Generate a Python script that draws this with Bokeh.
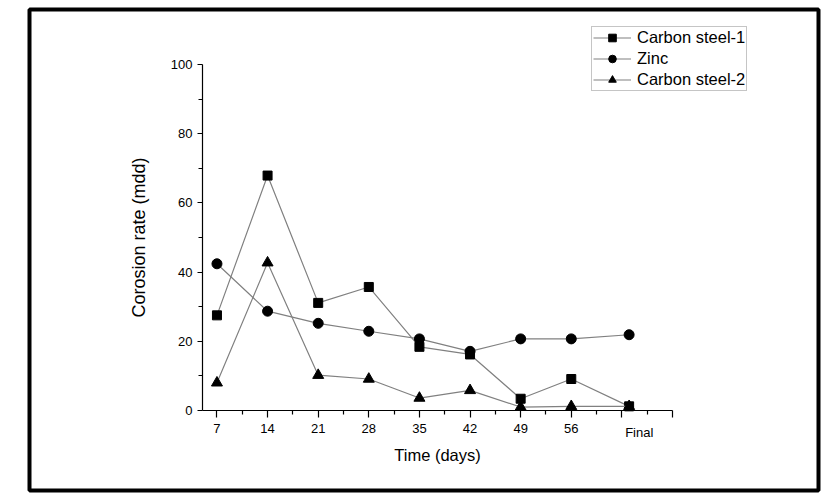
from bokeh.plotting import figure
from bokeh.models import Range1d, FixedTicker, Legend, LegendItem, Label
from bokeh.embed import file_html
from bokeh.resources import INLINE

# ---- data ----
days = [7, 14, 21, 28, 35, 42, 49, 56, 64]
steel1 = [27.5, 67.9, 31.1, 35.7, 18.4, 16.2, 3.4, 9.1, 1.2]
zinc = [42.4, 28.7, 25.2, 22.9, 20.7, 17.1, 20.7, 20.7, 21.9]
steel2 = [8.0, 42.7, 10.2, 9.1, 3.6, 5.8, 1.0, 1.2, 1.2]
series_names = ["Carbon steel-1", "Zinc", "Carbon steel-2"]

x_ticks = [7, 14, 21, 28, 35, 42, 49, 56, 63, 70]
x_tick_labels = ["7", "14", "21", "28", "35", "42", "49", "56", "", ""]
x_minor = [10.5, 17.5, 24.5, 31.5, 38.5, 45.5, 52.5, 59.5, 66.5]
x_axis_bounds = (5, 70)
final_label = "Final"
final_label_x = 65.4
y_ticks = [0, 20, 40, 60, 80, 100]
y_minor = [10, 30, 50, 70, 90]
y_axis_bounds = (0, 100)

FONT = "Liberation Sans"

# frame spans the whole boxed area; the axes sit inside it at fixed locations
W, H = 830, 497
FL, FT, FR, FB = 29, 9, 818, 490          # frame edges (page px)
AX_L, AX_R, AX_T, AX_B = 202, 672, 64, 410  # axis box (page px)
kx = (AX_R - AX_L) / (x_axis_bounds[1] - x_axis_bounds[0])
ky = (AX_B - AX_T) / (y_axis_bounds[1] - y_axis_bounds[0])
x_range = Range1d(x_axis_bounds[0] - (AX_L - FL) / kx, x_axis_bounds[1] + (FR - AX_R) / kx)
y_range = Range1d(y_axis_bounds[0] - (FB - AX_B) / ky, y_axis_bounds[1] + (AX_T - FT) / ky)

p = figure(width=W, height=H, output_backend="svg", toolbar_location=None,
           x_range=x_range, y_range=y_range,
           min_border_left=FL, min_border_right=W - FR, min_border_top=FT, min_border_bottom=H - FB)
p.outline_line_color = "black"
p.outline_line_width = 4
p.grid.visible = False
p.background_fill_color = "white"
p.border_fill_color = "white"

p.xaxis.ticker = FixedTicker(ticks=x_ticks, minor_ticks=x_minor)
p.xaxis.major_label_overrides = {t: l for t, l in zip(x_ticks, x_tick_labels)}
p.yaxis.ticker = FixedTicker(ticks=y_ticks, minor_ticks=y_minor)
p.xaxis.fixed_location = y_axis_bounds[0]
p.yaxis.fixed_location = x_axis_bounds[0]
p.xaxis.bounds = x_axis_bounds
p.yaxis.bounds = y_axis_bounds

for ax in (p.xaxis[0], p.yaxis[0]):
    ax.axis_line_color = "black"
    ax.axis_line_width = 1.2
    ax.major_tick_line_color = "black"
    ax.minor_tick_line_color = "black"
    ax.major_tick_line_width = 1.2
    ax.minor_tick_line_width = 1.2
    ax.major_tick_in = 0
    ax.minor_tick_in = 0
    ax.major_label_text_font = FONT
    ax.major_label_text_font_size = "13px"
    ax.major_label_text_color = "black"
    ax.axis_label_text_font = FONT
    ax.axis_label_text_font_style = "normal"
    ax.axis_label_text_color = "black"

p.xaxis.major_tick_out = 7
p.xaxis.minor_tick_out = 4
p.yaxis.major_tick_out = 5
p.yaxis.minor_tick_out = 4
p.xaxis.major_label_standoff = 6
p.yaxis.major_label_standoff = 5
p.xaxis.axis_label = "Time (days)"
p.yaxis.axis_label = "Corosion rate (mdd)"
p.xaxis.axis_label_text_font_size = "16.5px"
p.yaxis.axis_label_text_font_size = "18px"
p.xaxis.axis_label_standoff = 10
p.yaxis.axis_label_standoff = 19

line_color = "#808080"
items = []
markers = ["square", "circle", "triangle"]
sizes = [9, 10, 11]
for name, vals, mk, sz in zip(series_names, [steel1, zinc, steel2], markers, sizes):
    r1 = p.line(days, vals, line_color=line_color, line_width=1.2)
    r2 = p.scatter(days, vals, marker=mk, size=sz, fill_color="black", line_color="black")
    items.append(LegendItem(label=name, renderers=[r1, r2]))

legend = Legend(items=items, location=(591 - FL, FB - 91))
legend.label_text_font = FONT
legend.label_text_font_size = "16.5px"
legend.label_text_color = "black"
legend.label_height = 19
legend.glyph_height = 19
legend.glyph_width = 38
legend.label_standoff = 6
legend.spacing = 2
legend.padding = 1
legend.margin = 0
legend.border_line_color = "#8c8c8c"
legend.border_line_width = 1
legend.background_fill_color = "white"
legend.background_fill_alpha = 1
p.add_layout(legend, "center")

p.add_layout(Label(x=final_label_x, y=-4.2, text=final_label, text_align="center",
                   text_baseline="top", text_font=FONT, text_font_size="13px",
                   text_color="black"))

open("out.html", "w").write(file_html(p, INLINE))
